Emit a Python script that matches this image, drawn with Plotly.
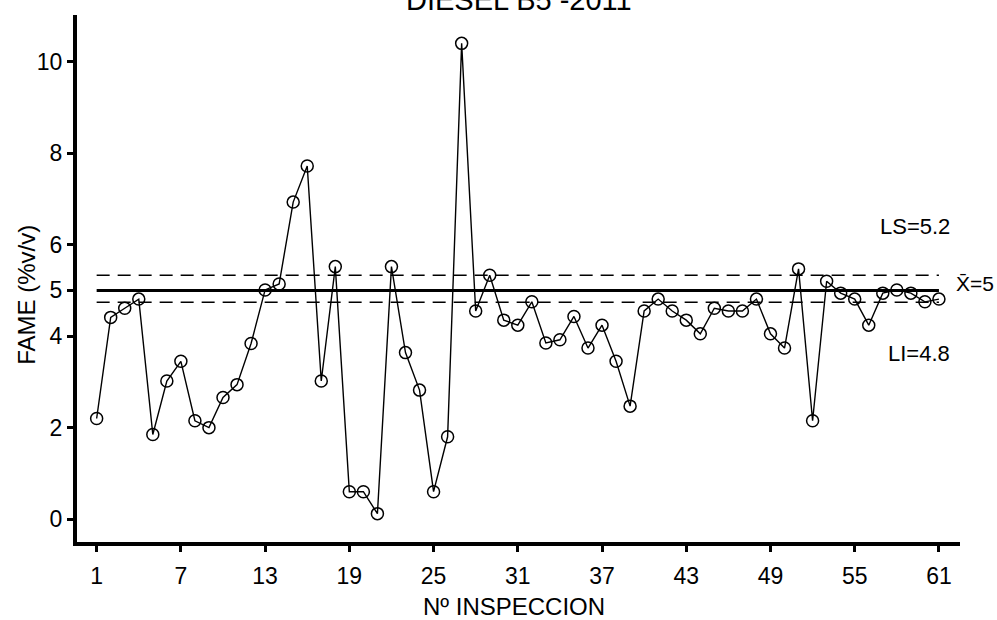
import plotly.graph_objects as go

# ---- data ----
inspeccion = list(range(1, 62))
fame = [2.2, 4.41, 4.61, 4.81, 1.85, 3.02, 3.45, 2.15, 2.0, 2.66,
        2.94, 3.84, 5.01, 5.14, 6.93, 7.72, 3.02, 5.52, 0.6, 0.6,
        0.12, 5.52, 3.64, 2.82, 0.6, 1.8, 10.4, 4.55, 5.33, 4.35,
        4.24, 4.75, 3.85, 3.92, 4.43, 3.74, 4.24, 3.45, 2.47, 4.55,
        4.81, 4.55, 4.35, 4.05, 4.61, 4.55, 4.55, 4.81, 4.05, 3.74,
        5.47, 2.15, 5.2, 4.94, 4.81, 4.24, 4.94, 5.01, 4.94, 4.75, 4.81]
mean_x = [1, 61]
mean_val = [5.0, 5.0]
ls_val = [5.33, 5.33]
li_val = [4.74, 4.74]
x_ticks = [1, 7, 13, 19, 25, 31, 37, 43, 49, 55, 61]
y_ticks = [0, 2, 4, 5, 6, 8, 10]

FONT = "Liberation Sans, Arial, Helvetica, sans-serif"

fig = go.Figure()
fig.add_trace(go.Scatter(x=mean_x, y=ls_val, mode="lines",
                         line=dict(color="black", width=1.5, dash="13px,8px"),
                         showlegend=False, hoverinfo="skip"))
fig.add_trace(go.Scatter(x=mean_x, y=li_val, mode="lines",
                         line=dict(color="black", width=1.5, dash="13px,8px"),
                         showlegend=False, hoverinfo="skip"))
fig.add_trace(go.Scatter(x=mean_x, y=mean_val, mode="lines",
                         line=dict(color="black", width=3),
                         showlegend=False, hoverinfo="skip"))
fig.add_trace(go.Scatter(x=inspeccion, y=fame, mode="lines+markers",
                         line=dict(color="black", width=1.4),
                         marker=dict(symbol="circle-open", size=12, color="black",
                                     line=dict(width=1.5, color="black")),
                         showlegend=False, cliponaxis=False))

fig.update_layout(
    width=997, height=620,
    margin=dict(l=77, r=37, t=15, b=78),
    paper_bgcolor="white", plot_bgcolor="white",
    font=dict(family=FONT, color="black", size=22),
    xaxis=dict(range=[-0.4, 62.5], tickvals=x_ticks, ticktext=[str(v) for v in x_ticks],
               showline=True, linewidth=4, linecolor="black", ticks="outside",
               ticklen=6, tickwidth=3, tickcolor="black", showgrid=False,
               zeroline=False, tickfont=dict(size=23), ticklabelstandoff=4),
    yaxis=dict(range=[-0.5, 11.02], tickvals=y_ticks, ticktext=[str(v) for v in y_ticks],
               showline=True, linewidth=4, linecolor="black", ticks="outside",
               ticklen=6, tickwidth=3, tickcolor="black", showgrid=False,
               zeroline=False, tickfont=dict(size=23)),
    annotations=[
        dict(text="DIESEL B5 -2011", xref="paper", yref="paper", x=0.5, y=1.028,
             xanchor="center", yanchor="middle", showarrow=False, font=dict(size=29)),
        dict(text="FAME (%v/v)", xref="paper", yref="paper", x=-0.0566, y=0.469,
             xanchor="center", yanchor="middle", textangle=-90, showarrow=False,
             font=dict(size=24)),
        dict(text="Nº INSPECCION", xref="paper", yref="paper", x=0.495, y=-0.123,
             xanchor="center", yanchor="middle", showarrow=False, font=dict(size=24)),
        dict(text="LS=5.2", xref="x", yref="y", x=59.3, y=6.39, xanchor="center",
             yanchor="middle", showarrow=False, font=dict(size=22)),
        dict(text="X\u0304=5", xref="paper", yref="y", x=0.9935, y=5.14, xanchor="left",
             yanchor="middle", showarrow=False, font=dict(size=21)),
        dict(text="LI=4.8", xref="x", yref="y", x=59.6, y=3.61, xanchor="center",
             yanchor="middle", showarrow=False, font=dict(size=22)),
    ],
)

fig.write_html("out.html")
